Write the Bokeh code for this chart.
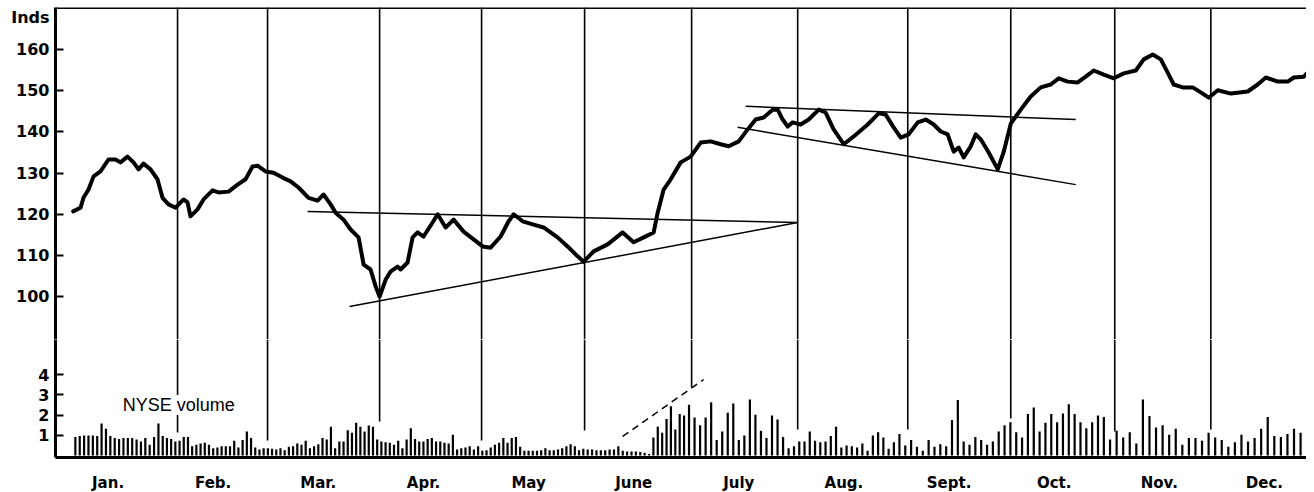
from bokeh.plotting import figure
from bokeh.models import Range1d, FixedTicker, BoxAnnotation, Span, Label
from bokeh.layouts import column
from bokeh.embed import file_html
from bokeh.resources import INLINE

# ---------------- data ----------------
months = ["Jan.", "Feb.", "Mar.", "Apr.", "May", "June", "July", "Aug.", "Sept.", "Oct.", "Nov.", "Dec."]

# time in months from Jan 1 (0 = Jan 1, 1 = Feb 1, ...)
price_t = [0.168, 0.238, 0.266, 0.314, 0.362, 0.428, 0.504, 0.571, 0.618, 0.685, 0.742, 0.790, 0.837, 0.904, 0.970,
           1.018, 1.075, 1.142, 1.218, 1.256, 1.284, 1.351, 1.408, 1.494, 1.551, 1.646, 1.732, 1.808, 1.874, 1.922, 1.998,
           2.074, 2.160, 2.236, 2.312, 2.407, 2.493, 2.550, 2.617, 2.664, 2.740, 2.807, 2.883, 2.931, 2.997,
           3.045, 3.083, 3.140, 3.187, 3.254, 3.283, 3.349, 3.397, 3.444, 3.501, 3.587, 3.635, 3.711, 3.787, 3.882, 3.977,
           4.063, 4.139, 4.234, 4.310, 4.358, 4.443, 4.548, 4.643, 4.776, 4.871, 4.967,
           5.024, 5.119, 5.252, 5.395, 5.499, 5.595, 5.690, 5.728, 5.785, 5.852, 5.947,
           6.042, 6.137, 6.232, 6.327, 6.403, 6.499, 6.584, 6.660, 6.736, 6.822, 6.870, 6.917, 6.965,
           7.012, 7.088, 7.165, 7.260, 7.326, 7.402, 7.498, 7.593, 7.726, 7.831, 7.897, 7.973,
           8.040, 8.116, 8.202, 8.278, 8.354, 8.421, 8.487, 8.544, 8.592, 8.639, 8.706, 8.754, 8.801, 8.877, 8.963,
           9.020, 9.087, 9.182, 9.277, 9.372, 9.467, 9.543, 9.629, 9.724, 9.800, 9.876, 9.971,
           10.067, 10.162, 10.276, 10.352, 10.438, 10.514, 10.580, 10.637, 10.723, 10.818, 10.894, 10.970,
           11.056, 11.180, 11.341, 11.436, 11.513, 11.627, 11.722, 11.779, 11.874, 11.970]
price = [120.7, 121.6, 124.0, 126.0, 129.2, 130.4, 133.3, 133.3, 132.6, 134.0, 132.6, 130.9, 132.3, 130.9, 128.5,
         124.0, 122.4, 121.6, 123.6, 122.9, 119.5, 121.2, 123.6, 125.8, 125.3, 125.5, 127.2, 128.5, 131.6, 131.8, 130.4,
         130.1, 128.9, 128.0, 126.5, 124.0, 123.3, 124.8, 122.4, 120.4, 118.7, 116.3, 114.4, 107.8, 106.6,
         102.5, 100.0, 104.1, 106.1, 107.3, 106.6, 108.3, 114.4, 115.6, 114.6, 118.0, 120.0, 116.8, 118.7, 115.8, 113.9,
         112.2, 111.9, 114.6, 118.3, 120.0, 118.3, 117.5, 116.8, 114.4, 112.2, 109.8,
         108.5, 111.0, 112.7, 115.6, 113.2, 114.4, 115.6, 120.4, 126.0, 128.5, 132.6,
         134.0, 137.4, 137.7, 137.0, 136.5, 137.7, 140.6, 143.0, 143.5, 145.4, 145.4, 143.0, 141.3,
         142.3, 141.8, 143.0, 145.4, 144.7, 140.6, 137.0, 138.9, 141.8, 144.5, 144.2, 141.1,
         138.6, 139.4, 142.3, 143.0, 141.8, 140.1, 139.4, 135.2, 136.2, 133.8, 136.5, 139.4, 138.2, 135.0, 130.9,
         135.2, 142.0, 145.4, 148.6, 150.8, 151.5, 153.0, 152.2, 152.0, 153.4, 154.9, 153.9,
         153.0, 154.2, 154.9, 157.6, 158.8, 157.6, 154.4, 151.5, 150.8, 150.8, 149.6, 148.3,
         150.1, 149.3, 149.8, 151.5, 153.2, 152.2, 152.2, 153.2, 153.4, 155.9]

# daily NYSE volume, one list per month
vol_jan = [0.92, 0.96, 0.99, 0.99, 0.99, 0.96, 1.58, 1.32, 0.96, 0.86, 0.82, 0.86, 0.86, 0.86, 0.79, 0.69, 0.86, 0.53, 0.92, 1.58]
vol_feb = [0.96, 0.86, 0.82, 0.69, 0.73, 0.92, 0.92, 0.46, 0.53, 0.59, 0.63, 0.53, 0.36, 0.40, 0.46, 0.46, 0.46, 0.73, 0.40, 0.76, 1.19, 0.86, 0.40, 0.30, 0.36]
vol_mar = [0.36, 0.33, 0.30, 0.36, 0.26, 0.43, 0.46, 0.59, 0.53, 0.73, 0.36, 0.46, 0.56, 0.86, 0.79, 1.42, 0.36, 0.69, 0.69, 1.25, 1.12, 1.62, 1.42, 1.19, 1.48]
vol_apr = [1.42, 0.79, 0.69, 0.66, 0.63, 0.53, 0.73, 0.36, 0.79, 1.35, 0.82, 0.69, 0.69, 0.82, 0.86, 0.69, 0.69, 0.63, 0.59, 1.02, 0.30, 0.36, 0.40, 0.46, 0.30]
vol_may = [0.46, 0.23, 0.26, 0.40, 0.53, 0.63, 0.86, 0.63, 0.86, 0.92, 0.43, 0.23, 0.23, 0.23, 0.23, 0.26, 0.36, 0.26, 0.26, 0.30, 0.36, 0.46, 0.56, 0.46, 0.26]
vol_jun = [0.33, 0.30, 0.30, 0.26, 0.26, 0.26, 0.30, 0.30, 0.46, 0.23, 0.20, 0.20, 0.20, 0.17, 0.13, 0.07, 0.89, 1.42, 1.12, 1.81, 2.44, 1.29, 2.05, 1.98]
vol_jul = [2.51, 1.88, 1.49, 1.88, 2.64, 0.76, 1.19, 2.11, 2.57, 0.76, 0.99, 2.77, 2.01, 1.22, 0.86, 1.98, 1.78, 0.92, 0.36]
vol_aug = [0.46, 0.69, 0.69, 1.19, 0.73, 0.66, 0.69, 0.96, 1.42, 0.40, 0.50, 0.46, 0.40, 0.59, 0.23, 0.99, 1.15, 0.89, 0.33, 0.66]
vol_sep = [1.06, 0.50, 0.76, 0.43, 0.23, 0.76, 0.43, 0.56, 0.46, 1.75, 2.74, 0.69, 0.53, 0.92, 0.76, 0.53, 0.69, 1.19]
vol_oct = [1.49, 1.65, 1.15, 0.89, 2.05, 2.38, 1.19, 1.62, 2.05, 1.65, 2.08, 2.54, 2.05, 1.65, 1.35, 1.65, 1.98, 1.91]
vol_nov = [0.79, 1.22, 0.89, 1.15, 0.59, 2.77, 1.95, 1.39, 1.49, 1.02, 1.32, 0.53, 0.86, 0.86, 0.73, 1.12]
vol_dec = [0.89, 0.76, 0.43, 0.66, 1.02, 0.69, 0.86, 1.32, 1.91, 0.96, 0.92, 1.06, 1.32, 1.12, 2.14, 1.78]
vol_by_month = [vol_jan, vol_feb, vol_mar, vol_apr, vol_may, vol_jun, vol_jul, vol_aug, vol_sep, vol_oct, vol_nov, vol_dec]

# vertical cycle lines (time in months) and where they stop in the volume panel
vline_t = [1.161, 2.017, 3.083, 4.053, 5.033, 6.051, 7.060, 8.107, 9.087, 10.076, 10.990]
vline_vol_end = [1.14, 0.74, 1.68, 0.74, 1.24, 3.37, 1.29, 1.29, 1.83, 1.19, 1.29]

# trend lines: (t0, p0, t1, p1)
trend_lines = [
    (2.398, 120.7, 7.060, 118.0),
    (2.797, 97.6, 7.060, 118.0),
    (6.565, 146.2, 9.705, 143.0),
    (6.489, 141.1, 9.705, 127.2),
]
vol_dash = (5.395, 0.94, 6.166, 3.76)

price_ticks = [100, 110, 120, 130, 140, 150, 160]
price_unit_label = "Inds"
price_unit_pos = 167.8
vol_ticks = [1, 2, 3, 4]

# ---------------- chart ----------------
FONT = "DejaVu Sans"
x_range = Range1d(0, 11.9)
p_lo, p_hi = 89.61, 170.19
v_lo, v_hi = -0.1, 5.74


def style_left(ax, ticks):
    ax.ticker = FixedTicker(ticks=ticks)
    ax.axis_line_width = 3
    ax.major_tick_in = 8
    ax.major_tick_out = 0
    ax.major_tick_line_width = 2
    ax.minor_tick_line_color = None
    ax.major_label_standoff = 6
    ax.major_label_text_font = FONT
    ax.major_label_text_font_style = "bold"
    ax.major_label_text_font_size = "16px"
    ax.major_label_text_color = "black"


p1 = figure(frame_width=1251, frame_height=332, x_range=x_range, y_range=Range1d(p_lo, p_hi),
            output_backend="svg", toolbar_location=None, x_axis_location=None,
            min_border_left=55, min_border_right=0, min_border_top=7, min_border_bottom=0)
p1.outline_line_color = None
p1.grid.visible = False
style_left(p1.yaxis[0], price_ticks + [price_unit_pos])
p1.yaxis[0].major_label_overrides = {price_unit_pos: price_unit_label}

p1.segment(x0=vline_t, y0=[p_lo] * len(vline_t), x1=vline_t, y1=[p_hi] * len(vline_t),
           line_color="black", line_width=1.6)
for t0, a, t1, b in trend_lines:
    p1.line([t0, t1], [a, b], line_color="black", line_width=1.5)
p1.line(price_t, price, line_color="black", line_width=4, line_join="round", line_cap="round")
p1.add_layout(Span(location=p_hi, dimension="width", line_color="black", line_width=3))
# hide the tick stub that carries the "Inds" unit label
p1.add_layout(BoxAnnotation(left=0.014, right=0.12, bottom=price_unit_pos - 1.2, top=price_unit_pos + 1.2,
                            fill_color="white", fill_alpha=1, line_color=None, level="overlay"))

p2 = figure(frame_width=1251, frame_height=118, x_range=x_range, y_range=Range1d(v_lo, v_hi),
            output_backend="svg", toolbar_location=None,
            min_border_left=55, min_border_right=0, min_border_top=0, min_border_bottom=0)
p2.outline_line_color = None
p2.grid.visible = False
style_left(p2.yaxis[0], vol_ticks)

xa = p2.xaxis[0]
xa.ticker = FixedTicker(ticks=[i + 0.5 for i in range(12)])
xa.major_label_overrides = {i + 0.5: m for i, m in enumerate(months)}
xa.axis_line_width = 3
xa.major_tick_line_color = None
xa.minor_tick_line_color = None
xa.major_label_standoff = 10
xa.major_label_text_font = FONT
xa.major_label_text_font_style = "bold"
xa.major_label_text_font_size = "15px"
xa.major_label_text_color = "black"

vx, vy = [], []
for i, vals in enumerate(vol_by_month):
    start = price_t[0] if i == 0 else i
    n = len(vals)
    for k, v in enumerate(vals):
        vx.append(start + (k + 0.5) * (i + 1 - start) / n)
        vy.append(v)
p2.vbar(x=vx, top=vy, bottom=0, width=0.021, fill_color="black", line_color=None)

p2.segment(x0=vline_t, y0=vline_vol_end, x1=vline_t, y1=[v_hi] * len(vline_t),
           line_color="black", line_width=1.6)
p2.line([vol_dash[0], vol_dash[2]], [vol_dash[1], vol_dash[3]], line_color="black",
        line_width=1.5, line_dash="7 5")
p2.add_layout(Label(x=0.64, y=2.5, text="NYSE volume", text_align="left", text_baseline="middle",
                    text_font="Liberation Sans", text_font_size="18px", text_color="black",
                    background_fill_color="white"))

layout = column(p1, p2, spacing=0)
open("out.html", "w").write(file_html(layout, INLINE))
